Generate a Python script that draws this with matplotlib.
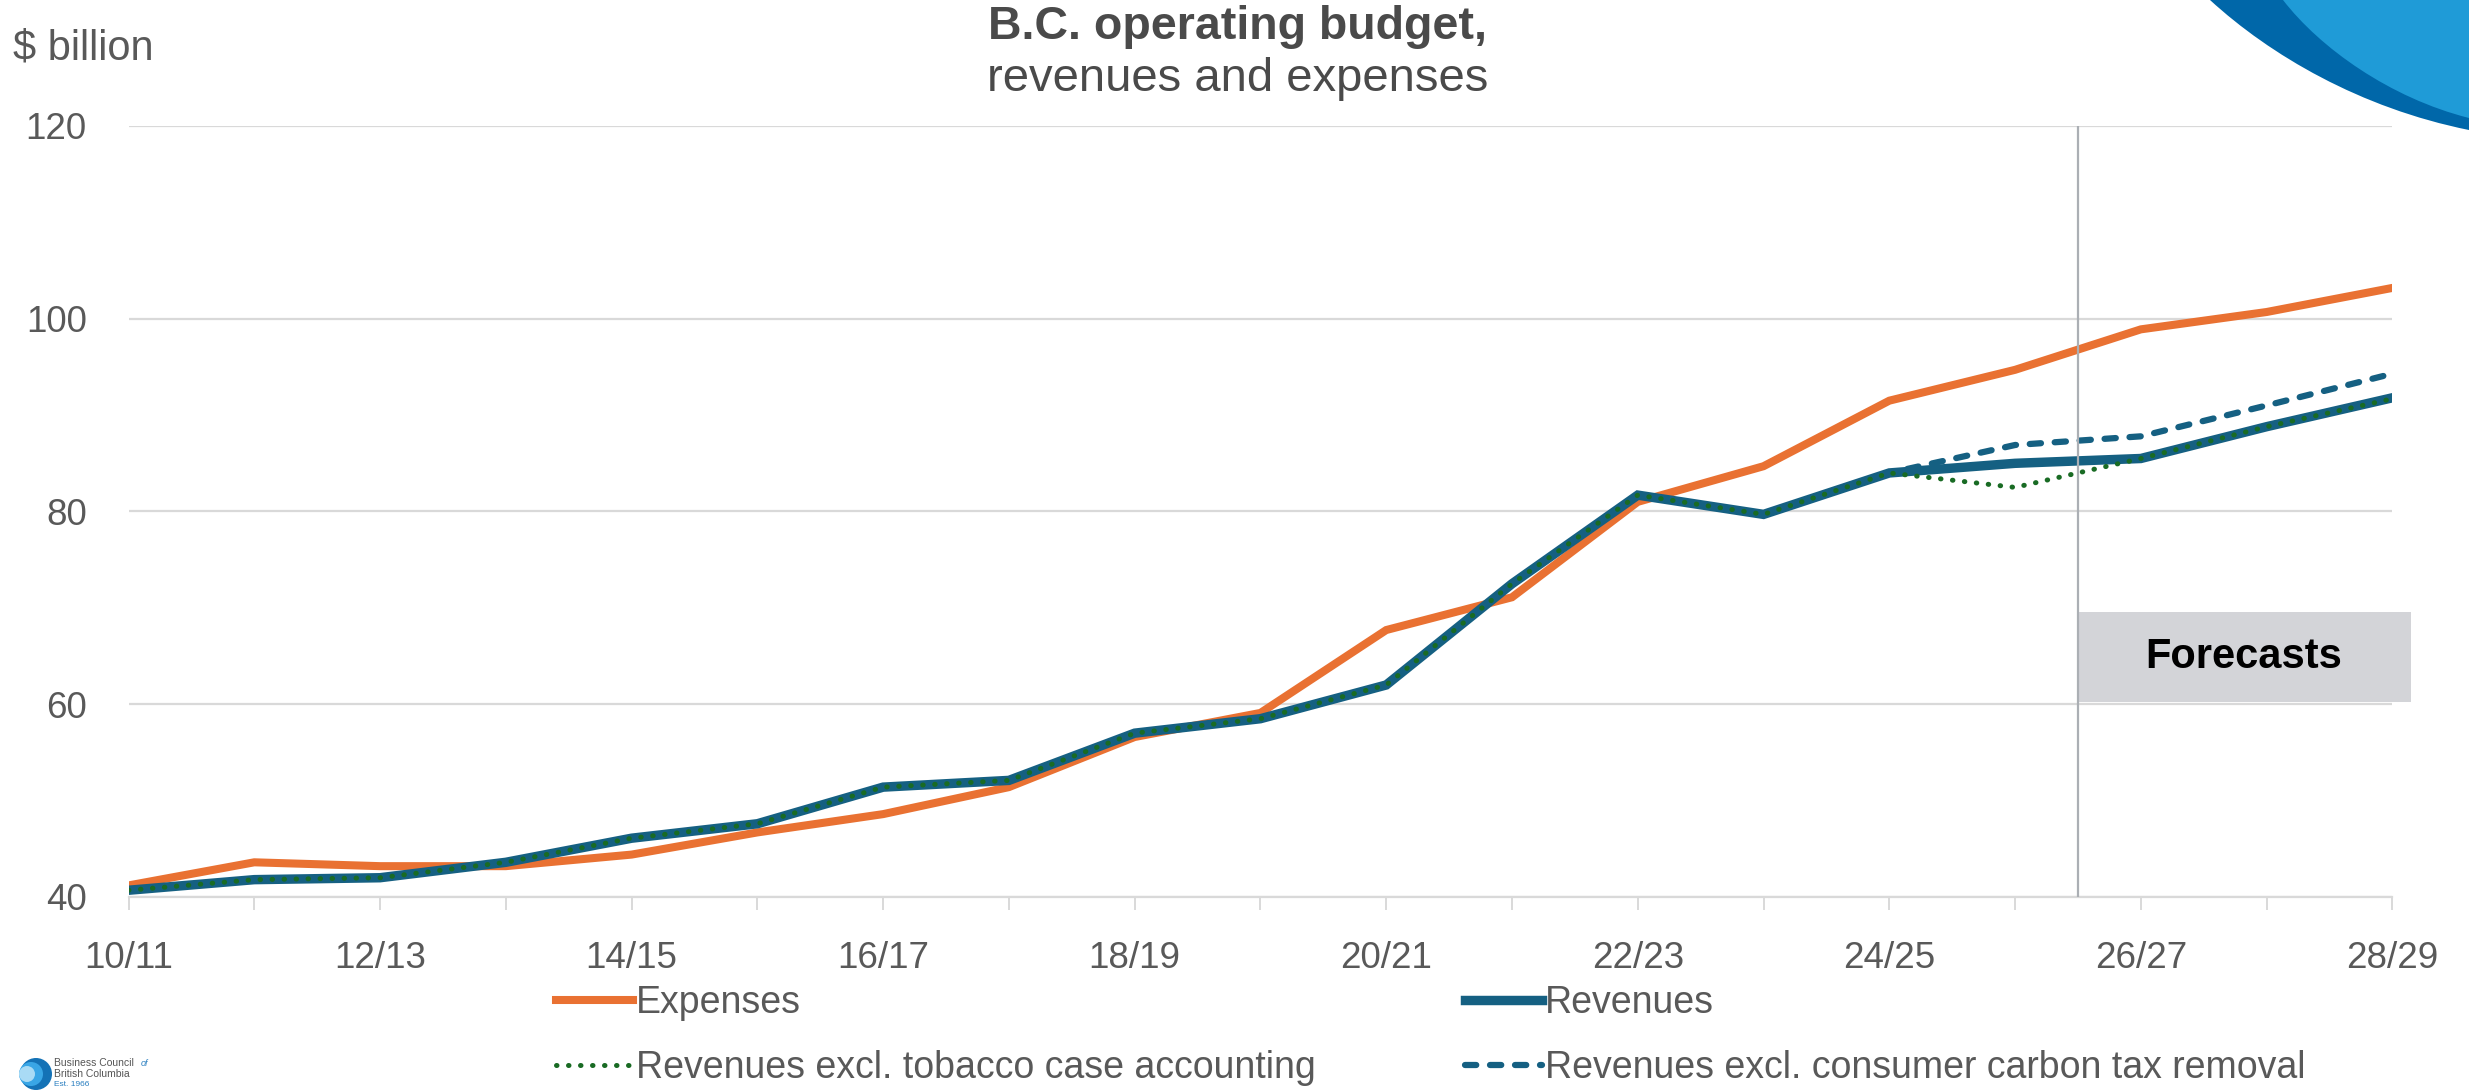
import matplotlib
matplotlib.use("Agg")
import matplotlib.pyplot as plt
from matplotlib.patches import Rectangle, Circle, PathPatch
from matplotlib.path import Path
from matplotlib.lines import Line2D

plt.rcParams['font.family'] = ['Liberation Sans', 'DejaVu Sans']

# fiscal years and budget series ($ billion)
years = ['10/11', '11/12', '12/13', '13/14', '14/15', '15/16', '16/17', '17/18',
         '18/19', '19/20', '20/21', '21/22', '22/23', '23/24', '24/25', '25/26',
         '26/27', '27/28', '28/29']
expenses = [41.2, 43.6, 43.2, 43.2, 44.4, 46.7, 48.6, 51.4, 56.6, 59.1,
            67.7, 71.1, 81.0, 84.7, 91.5, 94.7, 98.9, 100.7, 103.2]
revenues = [40.7, 41.8, 42.0, 43.6, 46.1, 47.6, 51.4, 52.1, 57.0, 58.5,
            62.0, 72.5, 81.7, 79.7, 84.0, 85.0, 85.5, 88.8, 91.8]
rev_excl_tobacco = [40.7, 41.8, 42.0, 43.6, 46.1, 47.6, 51.4, 52.1, 57.0, 58.5,
                    62.0, 72.5, 81.7, 79.7, 84.0, 82.5, 85.5, 88.8, 91.7]
rev_excl_carbon = [40.7, 41.8, 42.0, 43.6, 46.1, 47.6, 51.4, 52.1, 57.0, 58.5,
                   62.0, 72.5, 81.7, 79.7, 84.0, 86.9, 87.8, 91.0, 94.3]
forecast_start = 15.5

ORANGE = '#E97132'
BLUE = '#156082'
GREEN = '#196B24'
GRID = '#D9D9D9'
TXT = '#595959'

W, H = 2469, 1091
fig = plt.figure(figsize=(W / 100, H / 100), dpi=100)

# decorations in pixel coordinates
deco = fig.add_axes([0, 0, 1, 1], zorder=0)
deco.set_xlim(0, W)
deco.set_ylim(H, 0)
deco.axis('off')

dark = Path([(2210, 0), (2270, 55), (2360, 108), (2469, 130), (2469, 0), (2210, 0)],
            [Path.MOVETO, Path.CURVE4, Path.CURVE4, Path.CURVE4, Path.LINETO, Path.CLOSEPOLY])
light = Path([(2283, 0), (2320, 48), (2390, 98), (2469, 118), (2469, 0), (2283, 0)],
             [Path.MOVETO, Path.CURVE4, Path.CURVE4, Path.CURVE4, Path.LINETO, Path.CLOSEPOLY])
deco.add_patch(PathPatch(dark, facecolor='#0067A9', edgecolor='none'))
deco.add_patch(PathPatch(light, facecolor='#1F9BD7', edgecolor='none'))

# small logo, bottom left
deco.add_patch(Circle((36, 1074), 16, facecolor='#1472B6', edgecolor='none'))
deco.add_patch(Circle((31, 1074), 12, facecolor='#39A6E6', edgecolor='none'))
deco.add_patch(Circle((27, 1074), 8, facecolor='#A9DBF5', edgecolor='none'))
deco.text(54, 1063, 'Business Council', fontsize=7.5, color='#555555', va='center', ha='left')
deco.text(141, 1063, 'of', fontsize=6.5, color='#2A7FC0', style='italic', va='center', ha='left')
deco.text(54, 1074, 'British Columbia', fontsize=7.5, color='#555555', va='center', ha='left')
deco.text(54, 1084, 'Est. 1966', fontsize=6, color='#2A7FC0', va='center', ha='left')

# main chart
ax = fig.add_axes([128.5 / W, 1 - 897 / H, (2392.4 - 128.5) / W, (897 - 126) / H], zorder=1)
ax.patch.set_alpha(0)
x = list(range(len(years)))

dot_style = dict(color=GREEN, lw=3.6, dashes=(0.1, 2.3), dash_capstyle='round')
dash_style = dict(color=BLUE, lw=4.5, dashes=(1.8, 2.2), dash_capstyle='round')

ax.plot(x, expenses, color=ORANGE, lw=5.8, solid_joinstyle='miter', zorder=3)
ax.plot(x, rev_excl_carbon, zorder=3, **dash_style)
ax.plot(x, revenues, color=BLUE, lw=6.8, solid_joinstyle='miter', zorder=4)
ax.plot(x, rev_excl_tobacco, zorder=5, **dot_style)

ax.axvline(forecast_start, color='#ABAFB4', lw=1.6, zorder=6)

ax.add_patch(Rectangle((forecast_start, 60.25), 2.65, 9.35, facecolor='#D3D4D8',
                       edgecolor='none', clip_on=False, zorder=2))
ax.text(16.82, 64.9, 'Forecasts', fontsize=30, fontweight='bold', color='black',
        ha='center', va='center', zorder=7)

ax.set_xlim(0, len(years) - 1)
ax.set_ylim(40, 120)
ax.set_yticks([40, 60, 80, 100, 120])
ax.yaxis.grid(True, color=GRID, lw=1.6)
ax.set_axisbelow(True)
for s in ['left', 'right', 'top']:
    ax.spines[s].set_visible(False)
ax.spines['bottom'].set_color(GRID)
ax.spines['bottom'].set_linewidth(1.6)

ax.set_xticks(x)
ax.set_xticklabels([y if i % 2 == 0 else '' for i, y in enumerate(years)])
ax.tick_params(axis='x', length=9.4, width=1.4, color=GRID, pad=22, labelsize=26.5, labelcolor=TXT)
ax.tick_params(axis='y', length=0, pad=30, labelsize=26.5, labelcolor=TXT)

fig.text(12.6 / W, 1 - 48 / H, '$ billion', fontsize=30, color=TXT, ha='left', va='center')
fig.text(1238 / W, 1 - 27 / H, 'B.C. operating budget,', fontsize=33.5, fontweight='bold',
         color='#4A4A4A', ha='center', va='center')
fig.text(1238 / W, 1 - 79 / H, 'revenues and expenses', fontsize=34,
         color='#4A4A4A', ha='center', va='center')

# legend, one block per column
leg_kw = dict(loc='upper left', frameon=False, fontsize=27, handlelength=2.05,
              handletextpad=0.08, labelspacing=0.78, borderpad=0, borderaxespad=0)
left_leg = fig.legend([Line2D([], [], color=ORANGE, lw=5.8), Line2D([], [], **dot_style)],
                      ['Expenses', 'Revenues excl. tobacco case accounting'],
                      bbox_to_anchor=(556 / W, 1 - 985 / H), **leg_kw)
right_leg = fig.legend([Line2D([], [], color=BLUE, lw=6.8), Line2D([], [], **dash_style)],
                       ['Revenues', 'Revenues excl. consumer carbon tax removal'],
                       bbox_to_anchor=(1465 / W, 1 - 985 / H), **leg_kw)
for leg in (left_leg, right_leg):
    for t in leg.get_texts():
        t.set_color(TXT)

fig.savefig('out.png', dpi=100)
